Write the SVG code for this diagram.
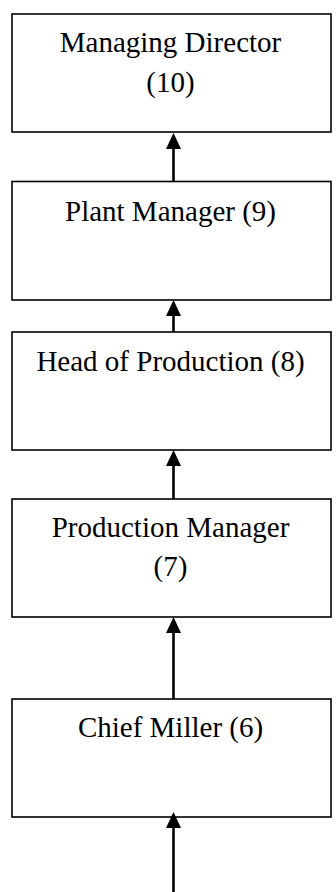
<svg xmlns="http://www.w3.org/2000/svg" width="336" height="892" viewBox="0 0 336 892">
<style>
.box{fill:#fff;stroke:#000;stroke-width:1.6}
.lbl{font-family:"Liberation Serif","Times New Roman",serif;font-size:29px;fill:#000;text-anchor:middle}
.conn{stroke:#000;stroke-width:2.6;fill:none}
</style>
<defs>
<marker id="ah" markerUnits="userSpaceOnUse" markerWidth="16" markerHeight="15" refX="6" refY="7.5" orient="auto" viewBox="0 0 16 15">
<path d="M0,0 L16,7.5 L0,15 Z" fill="#000"/>
</marker>
</defs>
<rect width="336" height="892" fill="#fff"/>
<g id="n10">
<rect class="box" x="12" y="14" width="319" height="118"/>
<text class="lbl" x="170.5" y="52">Managing Director</text>
<text class="lbl" x="170.5" y="92">(10)</text>
</g>
<g id="n9">
<rect class="box" x="12" y="181.5" width="319" height="118.5"/>
<text class="lbl" x="170.5" y="221">Plant Manager (9)</text>
</g>
<g id="n8">
<rect class="box" x="12" y="332" width="319" height="118"/>
<text class="lbl" x="170.5" y="371">Head of Production (8)</text>
</g>
<g id="n7">
<rect class="box" x="12" y="499" width="319" height="118"/>
<text class="lbl" x="170.5" y="537">Production Manager</text>
<text class="lbl" x="170.5" y="576">(7)</text>
</g>
<g id="n6">
<rect class="box" x="12" y="699" width="319" height="118"/>
<text class="lbl" x="170.5" y="737">Chief Miller (6)</text>
</g>
<g id="connectors">
<line class="conn" x1="173.5" y1="181.5" x2="173.5" y2="143" marker-end="url(#ah)"/>
<line class="conn" x1="173.5" y1="332" x2="173.5" y2="310" marker-end="url(#ah)"/>
<line class="conn" x1="173.5" y1="499" x2="173.5" y2="460" marker-end="url(#ah)"/>
<line class="conn" x1="173.5" y1="699" x2="173.5" y2="627" marker-end="url(#ah)"/>
<line class="conn" x1="173.5" y1="892" x2="173.5" y2="822" marker-end="url(#ah)"/>
</g>
</svg>
